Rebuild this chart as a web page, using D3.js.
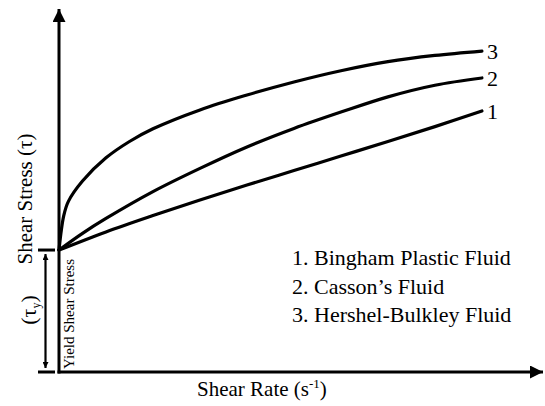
<!DOCTYPE html>
<html lang="en">
<head>
    <meta charset="UTF-8">
    <title>Shear stress vs shear rate</title>
    <style>
        body { margin: 0; background: #fff; }
    </style>
</head>
<body>
<script src="https://d3js.org/d3.v7.min.js"></script>
<script>
    // (arbitrary units)
    let yieldStress = 33.6;
    let binghamRate = [0, 10, 20, 30, 40, 50, 60, 70, 80, 90];
    let binghamStress = [33.6, 38.6, 43.1, 47.4, 51.5, 55.5, 59.5, 63.5, 67.6, 71.9];
    let cassonRate = [0, 5, 10, 20, 30, 40, 50, 60, 70, 80, 90];
    let cassonStress = [33.6, 38.2, 42.3, 49.7, 56.1, 62.0, 67.1, 71.6, 75.8, 79.0, 81.0];
    let hbRate = [0, 1, 2, 5, 10, 15, 20, 30, 40, 50, 60, 70, 80, 90];
    let hbStress = [33.6, 43.0, 47.0, 52.6, 59.0, 63.5, 67.0, 72.2, 76.3, 79.9, 83.0, 85.5, 87.2, 88.4];
    let curveLabels = ['1', '2', '3'];
    let legendItems = ['1. Bingham Plastic Fluid', '2. Casson\u2019s Fluid', '3. Hershel-Bulkley Fluid'];

    let width = 545;
    let height = 406;
    let serif = '"Liberation Serif", "Times New Roman", Times, "DejaVu Serif", serif';

    let x = d3.scaleLinear().domain([0, 103]).range([59, 543]);
    let y = d3.scaleLinear().domain([0, 100]).range([372, 9]);

    let svg = d3.select('body')
        .append('svg')
        .attr('width', width)
        .attr('height', height)
        .style('font-family', serif);

    let defs = svg.append('defs');
    defs.append('marker')
        .attr('id', 'head')
        .attr('markerUnits', 'userSpaceOnUse')
        .attr('viewBox', '0 0 12 12')
        .attr('refX', 12)
        .attr('refY', 6)
        .attr('markerWidth', 13)
        .attr('markerHeight', 13)
        .attr('orient', 'auto')
        .append('path')
        .attr('d', 'M0,0L12,6L0,12Z')
        .attr('fill', '#000');
    defs.append('marker')
        .attr('id', 'small')
        .attr('markerUnits', 'userSpaceOnUse')
        .attr('viewBox', '0 0 10 10')
        .attr('refX', 10)
        .attr('refY', 5)
        .attr('markerWidth', 6)
        .attr('markerHeight', 6)
        .attr('orient', 'auto-start-reverse')
        .append('path')
        .attr('d', 'M0,0L10,5L0,10Z')
        .attr('fill', '#000');

    // axes, no ticks, arrow at the end
    let xAxis = svg.append('g')
        .attr('transform', 'translate(0,' + y(0) + ')')
        .call(d3.axisBottom(x).tickValues([]).tickSizeOuter(0));
    xAxis.select('.domain')
        .attr('stroke-width', 3)
        .attr('d', 'M' + (x(0) - 1.5) + ',0H' + x(103))
        .attr('marker-end', 'url(#head)');

    let yAxis = svg.append('g')
        .attr('transform', 'translate(' + x(0) + ',0)')
        .call(d3.axisLeft(y).tickValues([]).tickSizeOuter(0));
    yAxis.select('.domain')
        .attr('stroke-width', 3)
        .attr('d', 'M0,' + (y(0) + 1.5) + 'V' + y(100))
        .attr('marker-end', 'url(#head)');

    // curves
    let line = d3.line()
        .x(d => x(d[0]))
        .y(d => y(d[1]))
        .curve(d3.curveCatmullRom.alpha(0.5));
    let series = [
        d3.zip(binghamRate, binghamStress),
        d3.zip(cassonRate, cassonStress),
        d3.zip(hbRate, hbStress)
    ];
    svg.selectAll('path.curve').data(series)
        .enter()
        .append('path')
        .attr('class', 'curve')
        .attr('d', line)
        .attr('fill', 'none')
        .attr('stroke', '#000')
        .attr('stroke-width', 3.2)
        .attr('stroke-linecap', 'round');

    svg.selectAll('text.num').data(series)
        .enter()
        .append('text')
        .attr('class', 'num')
        .attr('font-family', serif)
        .attr('x', d => x(d[d.length - 1][0]) + 5)
        .attr('y', d => y(d[d.length - 1][1]) + 8)
        .attr('font-size', 22)
        .text((d, i) => curveLabels[i]);

    // yield stress bracket
    let bracket = svg.append('g');
    bracket.selectAll('line.tick').data([yieldStress, 0])
        .enter()
        .append('line')
        .attr('x1', 38).attr('x2', 55)
        .attr('y1', d => y(d)).attr('y2', d => y(d))
        .attr('stroke', '#000')
        .attr('stroke-width', 3);
    bracket.append('line')
        .attr('x1', 45.5).attr('x2', 45.5)
        .attr('y1', y(yieldStress) + 4)
        .attr('y2', y(0) - 4)
        .attr('stroke', '#000')
        .attr('stroke-width', 2.2)
        .attr('marker-start', 'url(#small)')
        .attr('marker-end', 'url(#small)');

    svg.append('text')
        .attr('font-family', serif)
        .attr('transform', 'translate(74,' + (y(0) - 3) + ') rotate(-90)')
        .attr('font-size', 15)
        .text('Yield Shear Stress');

    let tauY = svg.append('text')
        .attr('font-family', serif)
        .attr('transform', 'translate(36,' + 310 + ') rotate(-90)')
        .attr('text-anchor', 'middle')
        .attr('font-size', 22);
    tauY.append('tspan').text('(\u03c4');
    tauY.append('tspan').attr('font-size', 12).attr('dy', 4).text('y');
    tauY.append('tspan').attr('dy', -4).text(')');

    // axis titles
    svg.append('text')
        .attr('font-family', serif)
        .attr('transform', 'translate(32,199) rotate(-90)')
        .attr('text-anchor', 'middle')
        .attr('font-size', 21)
        .text('Shear Stress (\u03c4)');

    let xTitle = svg.append('text')
        .attr('font-family', serif)
        .attr('x', 197)
        .attr('y', 396)
        .attr('font-size', 21);
    xTitle.append('tspan').text('Shear Rate (s');
    xTitle.append('tspan').attr('font-size', 13).attr('dy', -8).text('-1');
    xTitle.append('tspan').attr('dy', 8).text(')');

    // legend
    svg.selectAll('text.legend').data(legendItems)
        .enter()
        .append('text')
        .attr('class', 'legend')
        .attr('font-family', serif)
        .attr('x', 292)
        .attr('y', (d, i) => 265 + i * 28.5)
        .attr('font-size', 22)
        .text(d => d);
</script>
</body>
</html>
